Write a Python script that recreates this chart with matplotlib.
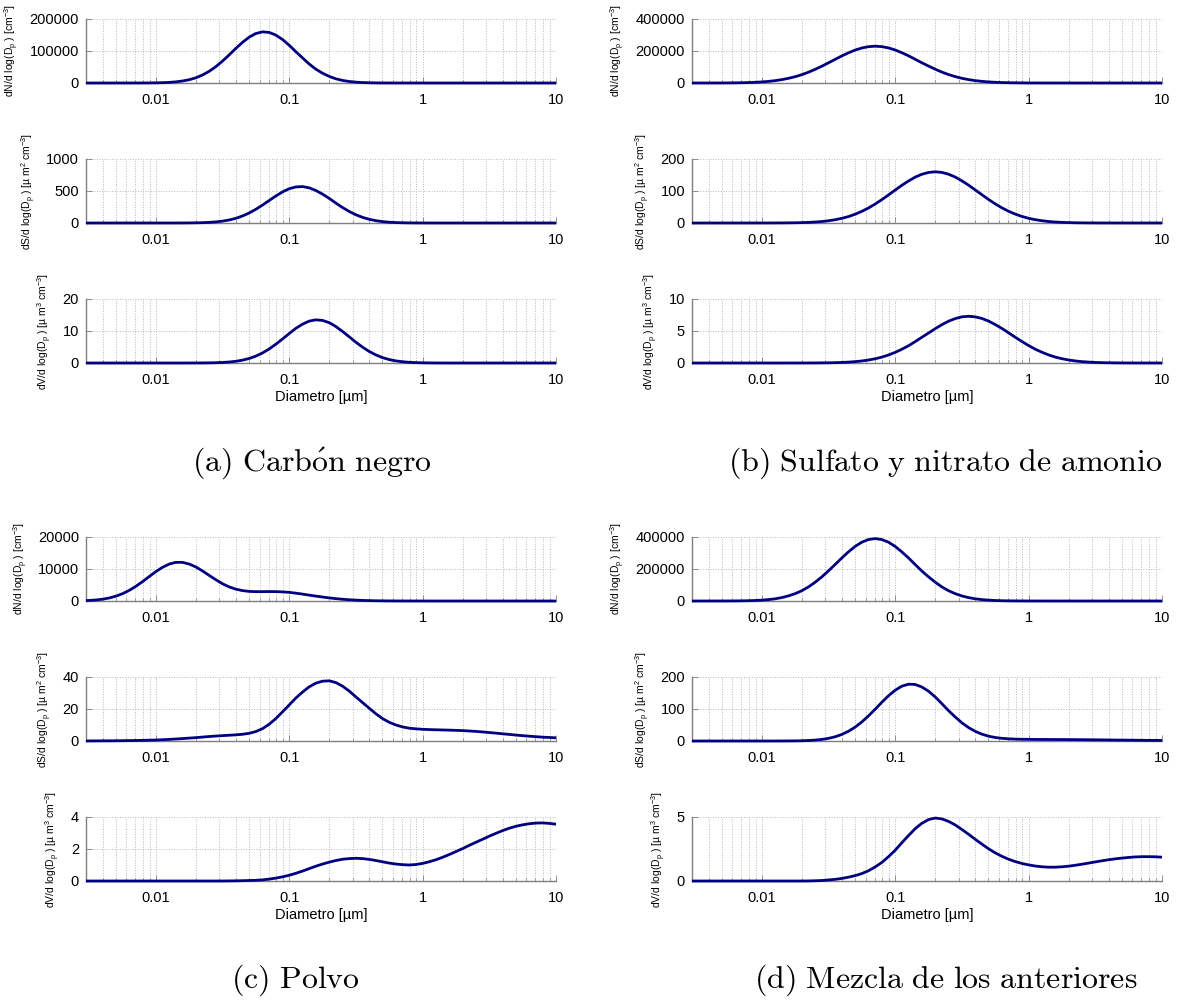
import matplotlib
matplotlib.use('Agg')
import matplotlib.pyplot as plt
import matplotlib as mpl
from matplotlib.ticker import LogLocator, NullFormatter

# ── style ───────────────────────────────────────────────
mpl.rcParams.update({
    'font.family': ['Liberation Sans', 'DejaVu Sans'],
    'mathtext.fontset': 'cm',
    'mathtext.default': 'regular',
    'axes.linewidth': 1.0,
})

LINE = '#000080'
SPINE = '#7f7f7f'
GRID = '#b8b8b8'

# ── data, diameters in µm ───────────────────────────────
diam = [0.003,
        0.00316, 0.00355, 0.00398, 0.00447, 0.00501, 0.00562, 0.00631, 0.00708, 0.00794, 0.00891,
        0.01, 0.0112, 0.0126, 0.0141, 0.0158, 0.0178, 0.02, 0.0224, 0.0251, 0.0282,
        0.0316, 0.0355, 0.0398, 0.0447, 0.0501, 0.0562, 0.0631, 0.0708, 0.0794, 0.0891,
        0.1, 0.112, 0.126, 0.141, 0.158, 0.178, 0.2, 0.224, 0.251, 0.282,
        0.316, 0.355, 0.398, 0.447, 0.501, 0.562, 0.631, 0.708, 0.794, 0.891,
        1, 1.12, 1.26, 1.41, 1.58, 1.78, 2, 2.24, 2.51, 2.82,
        3.16, 3.55, 3.98, 4.47, 5.01, 5.62, 6.31, 7.08, 7.94, 8.91,
        10]

# (a) Carbon negro
a_num = [0,
         0, 0, 0, 0, 3, 8, 22, 52, 115, 245,
         515, 1020, 1940, 3520, 6130, 10200, 16350, 24900, 36400, 51000,
         68300, 87800, 108000, 127000, 143200, 154600, 159800, 158100, 149800, 135900,
         118100, 98200, 78300, 59700, 43600, 30500, 20400, 13100, 8030, 4730,
         2660, 1440, 740, 366, 173, 78, 34, 14, 6, 2,
         1, 0, 0, 0, 0, 0, 0, 0, 0, 0,
         0, 0, 0, 0, 0, 0, 0, 0, 0, 0,
         0]
a_surf = [0,
          0, 0, 0, 0, 0, 0, 0, 0, 0, 0,
          0, 0.05, 0.1, 0.28, 0.6, 1.3, 2.7, 5.2, 9.6, 17,
          29, 47, 73, 109.6, 156, 213.8, 280, 351.5, 422, 485.4,
          535, 563.6, 569, 550, 509, 451.3, 383, 311.2, 242, 180.5,
          129, 88, 58, 36, 21.7, 12.4, 6.8, 3.6, 1.8, 0.9,
          0.4, 0.17, 0, 0, 0, 0, 0, 0, 0, 0,
          0, 0, 0, 0, 0, 0, 0, 0, 0, 0,
          0]
a_vol = [0,
         0, 0, 0, 0, 0, 0, 0, 0, 0, 0,
         0, 0, 0, 0, 0, 0.005, 0.01, 0.022, 0.05, 0.09,
         0.17, 0.31, 0.53, 0.89, 1.41, 2.15, 3.14, 4.38, 5.86, 7.5,
         9.2, 10.81, 12.15, 13.08, 13.49, 13.31, 12.58, 11.39, 9.87, 8.19,
         6.5, 4.95, 3.6, 2.52, 1.68, 1.07, 0.66, 0.39, 0.22, 0.12,
         0.06, 0.03, 0.01, 0.005, 0, 0, 0, 0, 0, 0,
         0, 0, 0, 0, 0, 0, 0, 0, 0, 0,
         0]

# (b) Sulfato y nitrato de amonio
b_num = [23,
         31, 59, 110, 201, 356, 617, 1050, 1730, 2780, 4370,
         6690, 10030, 14650, 20900, 29000, 39400, 52300, 67500, 85200, 104900,
         126000, 147900, 169100, 188800, 205800, 218700, 227100, 230000, 227300, 219200,
         206400, 189500, 170000, 148700, 126900, 105800, 86000, 68200, 52800, 39900,
         29400, 21200, 14900, 10190, 6800, 4440, 2830, 1760, 1070, 630,
         364, 207, 113, 60, 31, 16, 8, 4, 2, 0,
         0, 0, 0, 0, 0, 0, 0, 0, 0, 0,
         0]
b_surf = [0,
          0, 0, 0, 0, 0, 0, 0, 0, 0, 0.02,
          0.04, 0.077, 0.14, 0.25, 0.43, 0.73, 1.2, 1.93, 3.04, 4.65,
          6.98, 10.19, 14.54, 20.17, 27.41, 36.38, 46.96, 59.27, 72.98, 87.65,
          102.9, 117.6, 131.3, 143.2, 152.1, 158, 160, 158.1, 152.5, 143.6,
          131.8, 118.3, 103.4, 88.3, 73.6, 59.8, 47.4, 36.7, 27.8, 20.5,
          14.7, 10.4, 7.1, 4.7, 3.1, 1.97, 1.22, 0.74, 0.44, 0.25,
          0.14, 0.08, 0.04, 0.02, 0.01, 0, 0, 0, 0, 0,
          0]
b_vol = [0,
         0, 0, 0, 0, 0, 0, 0, 0, 0, 0,
         0, 0, 0, 0, 0.001, 0.0019, 0.0035, 0.0064, 0.011, 0.02,
         0.033, 0.055, 0.088, 0.139, 0.212, 0.318, 0.465, 0.663, 0.92, 1.25,
         1.66, 2.14, 2.7, 3.33, 4.0, 4.69, 5.37, 5.99, 6.53, 6.94,
         7.21, 7.3, 7.21, 6.96, 6.55, 6.01, 5.4, 4.72, 4.03, 3.36,
         2.73, 2.16, 1.68, 1.27, 0.93, 0.67, 0.47, 0.32, 0.216, 0.141,
         0.09, 0.056, 0.034, 0.02, 0.012, 0.0066, 0.0036, 0.002, 0.001, 0,
         0]

# (c) Polvo
c_num = [128,
         172, 317, 557, 931, 1491, 2266, 3293, 4560, 6029, 7610,
         9158, 10500, 11536, 12070, 12082, 11560, 10620, 9400, 8017, 6650,
         5400, 4400, 3700, 3250, 3000, 2920, 2930, 2950, 2930, 2850,
         2700, 2450, 2150, 1840, 1528, 1240, 969, 735, 544, 390,
         271, 183, 119, 75, 46, 27, 16, 9, 5, 3,
         1.5, 0, 0, 0, 0, 0, 0, 0, 0, 0,
         0, 0, 0, 0, 0, 0, 0, 0, 0, 0,
         0]
c_surf = [0.04,
          0.05, 0.07, 0.1, 0.12, 0.15, 0.2, 0.25, 0.32, 0.4, 0.5,
          0.6, 0.8, 1.0, 1.25, 1.5, 1.8, 2.1, 2.45, 2.8, 3.1,
          3.35, 3.6, 3.85, 4.2, 4.8, 5.9, 7.7, 10.5, 14, 18.2,
          22.5, 26.8, 30.6, 33.8, 36.1, 37.4, 37.6, 36.5, 34.3, 31.2,
          27.6, 24, 20.5, 17, 14, 11.7, 10, 8.8, 8.0, 7.6,
          7.3, 7.15, 7.0, 6.9, 6.8, 6.65, 6.5, 6.25, 6.0, 5.65,
          5.3, 4.9, 4.5, 4.1, 3.7, 3.35, 3.0, 2.7, 2.4, 2.2,
          2.0]
c_vol = [0,
         0, 0, 0, 0, 0, 0, 0, 0, 0, 0,
         0, 0, 0, 0, 0, 0, 0, 0, 0, 0,
         0, 0.005, 0.01, 0.02, 0.03, 0.045, 0.07, 0.12, 0.18, 0.26,
         0.36, 0.48, 0.62, 0.77, 0.92, 1.06, 1.18, 1.28, 1.36, 1.40,
         1.42, 1.40, 1.35, 1.28, 1.2, 1.12, 1.06, 1.02, 1.0, 1.03,
         1.1, 1.2, 1.33, 1.48, 1.65, 1.84, 2.03, 2.23, 2.42, 2.61,
         2.8, 2.98, 3.15, 3.3, 3.42, 3.51, 3.58, 3.62, 3.63, 3.6,
         3.55]

# (d) Mezcla de los anteriores
d_num = [5,
         8, 17, 36, 74, 150, 292, 560, 1020, 1820, 3160,
         5320, 8680, 13760, 21200, 31700, 45900, 64500, 88200, 117000, 150700,
         188200, 228400, 268900, 307500, 341200, 367500, 384200, 390000, 384200, 367500,
         341200, 307500, 268900, 228400, 188200, 150700, 117000, 88200, 64500, 45900,
         31700, 21200, 13760, 8680, 5320, 3160, 1820, 1020, 560, 292,
         150, 74, 36, 17, 8, 3.5, 0, 0, 0, 0,
         0, 0, 0, 0, 0, 0, 0, 0, 0, 0,
         0]
d_surf = [0,
          0, 0, 0, 0, 0, 0, 0, 0, 0, 0,
          0, 0.02, 0.04, 0.1, 0.2, 0.42, 0.8, 1.55, 2.8, 4.9,
          8.2, 13.2, 20.5, 30.4, 43.4, 59.5, 78.5, 99.3, 120.9, 141.3,
          158.6, 171.2, 177.5, 176.7, 169.1, 155.5, 137.4, 116.6, 95, 75,
          57, 42, 30.2, 21.3, 15.1, 10.9, 8.4, 6.8, 5.9, 5.4,
          5.2, 4.8, 4.8, 4.7, 4.6, 4.5, 4.4, 4.25, 4.1, 3.9,
          3.7, 3.45, 3.2, 3.0, 2.8, 2.6, 2.4, 2.2, 2.0, 1.85,
          1.7]
d_vol = [0,
         0, 0, 0, 0, 0, 0, 0, 0, 0, 0,
         0, 0, 0, 0, 0, 0, 0, 0.005, 0.02, 0.04,
         0.08, 0.13, 0.2, 0.3, 0.42, 0.58, 0.8, 1.1, 1.45, 1.9,
         2.4, 2.98, 3.55, 4.08, 4.5, 4.8, 4.92, 4.85, 4.66, 4.38,
         4.03, 3.65, 3.26, 2.88, 2.52, 2.2, 1.93, 1.7, 1.52, 1.37,
         1.26, 1.17, 1.11, 1.08, 1.08, 1.11, 1.16, 1.23, 1.31, 1.4,
         1.49, 1.58, 1.66, 1.73, 1.79, 1.84, 1.88, 1.9, 1.9, 1.89,
         1.86]

panels = [
    ('a', [a_num, a_surf, a_vol], [[0, 100000, 200000], [0, 500, 1000], [0, 10, 20]]),
    ('b', [b_num, b_surf, b_vol], [[0, 200000, 400000], [0, 100, 200], [0, 5, 10]]),
    ('c', [c_num, c_surf, c_vol], [[0, 10000, 20000], [0, 20, 40], [0, 2, 4]]),
    ('d', [d_num, d_surf, d_vol], [[0, 200000, 400000], [0, 100, 200], [0, 5]]),
]
captions = {
    'a': r'$\mathrm{(a)\ Carb\acute{o}n\ negro}$',
    'b': r'$\mathrm{(b)\ Sulfato\ y\ nitrato\ de\ amonio}$',
    'c': r'$\mathrm{(c)\ Polvo}$',
    'd': r'$\mathrm{(d)\ Mezcla\ de\ los\ anteriores}$',
}
ylabels = [
    'dN/d log(D$_p$ ) [cm$^{-3}$]',
    'dS/d log(D$_p$ ) [µ m$^2$ cm$^{-3}$]',
    'dV/d log(D$_p$ ) [µ m$^3$ cm$^{-3}$]',
]
xticks = [0.01, 0.1, 1, 10]
xticklabels = ['0.01', '0.1', '1', '10']

# ── layout in pixels (1178 x 1000) ─────────────────────
W, H = 1178, 1000
col_left = {'a': 86, 'b': 692, 'c': 86, 'd': 692}
row_tops = {'a': [19, 159, 299], 'b': [19, 159, 299],
            'c': [537, 677, 817], 'd': [537, 677, 817]}
ax_w, ax_h = 470, 64
cap_pos = {'a': (312, 463), 'b': (945, 463), 'c': (295, 980), 'd': (946, 980)}

fig = plt.figure(figsize=(W / 100, H / 100), dpi=100)

for key, series, yticks_all in panels:
    for i in range(3):
        yticks = yticks_all[i]
        top = row_tops[key][i]
        ax = fig.add_axes([col_left[key] / W, 1 - (top + ax_h) / H, ax_w / W, ax_h / H])
        ax.plot(diam, series[i], color=LINE, lw=2.0, solid_joinstyle='round',
                solid_capstyle='butt', zorder=3, clip_on=False)
        ax.set_xscale('log')
        ax.set_xlim(0.003, 10)
        ax.set_ylim(yticks[0], yticks[-1])
        ax.set_yticks(yticks)
        ax.set_yticklabels([str(v) for v in yticks])
        ax.set_xticks(xticks)
        ax.set_xticklabels(xticklabels)
        ax.xaxis.set_minor_locator(LogLocator(base=10, subs=range(2, 10), numticks=20))
        ax.xaxis.set_minor_formatter(NullFormatter())

        ax.grid(True, which='major', linestyle=':', color=GRID, lw=0.7)
        ax.grid(True, which='minor', axis='x', linestyle=':', color=GRID, lw=0.7)
        ax.set_axisbelow(True)

        for s in ['top', 'right']:
            ax.spines[s].set_visible(False)
        for s in ['left', 'bottom']:
            ax.spines[s].set_color(SPINE)
        ax.tick_params(axis='both', which='major', direction='in', length=4,
                       width=0.6, color=SPINE, labelsize=10.5, pad=5)
        ax.tick_params(axis='x', which='minor', direction='in', length=2.5,
                       width=0.5, color=SPINE)
        ax.tick_params(axis='x', which='major', pad=7)
        ax.set_ylabel(ylabels[i], fontsize=7.5, labelpad=6)
        if i == 2:
            ax.set_xlabel('Diametro [µm]', fontsize=10.5, labelpad=2)

    cx, cy = cap_pos[key]
    fig.text(cx / W, 1 - cy / H, captions[key], fontsize=23,
             ha='center', va='center')

fig.savefig('out.png', dpi=100)
